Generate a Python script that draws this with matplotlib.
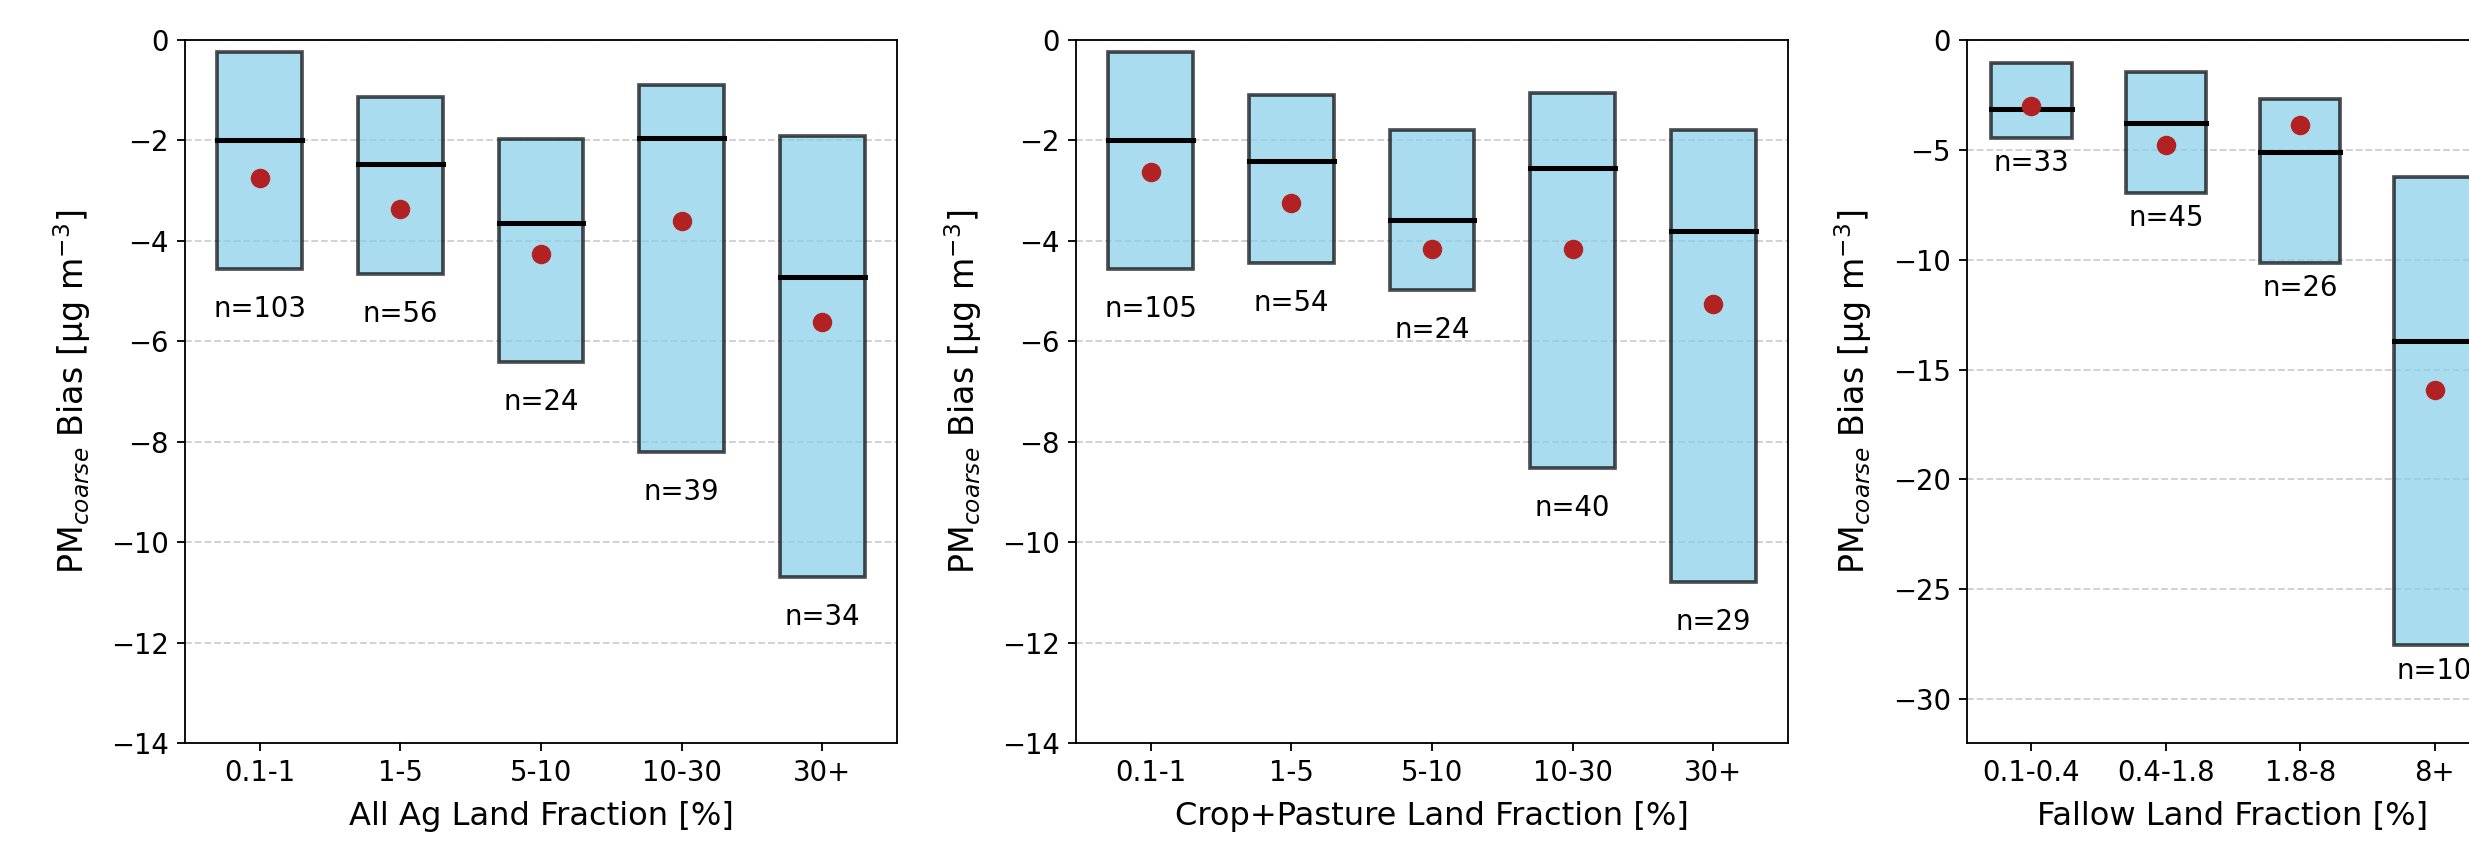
import numpy as np
import matplotlib
matplotlib.use("Agg")
import matplotlib.pyplot as plt

# bins and stats (q1 / median / q3 / mean / n)
ag_bins = ["0.1-1", "1-5", "5-10", "10-30", "30+"]
ag_q3 = [-0.24, -1.13, -1.98, -0.89, -1.91]
ag_q1 = [-4.56, -4.66, -6.41, -8.21, -10.70]
ag_med = [-2.00, -2.46, -3.65, -1.96, -4.71]
ag_mean = [-2.75, -3.36, -4.26, -3.61, -5.62]
ag_n = [103, 56, 24, 39, 34]

cp_bins = ["0.1-1", "1-5", "5-10", "10-30", "30+"]
cp_q3 = [-0.24, -1.09, -1.79, -1.05, -1.79]
cp_q1 = [-4.56, -4.44, -4.98, -8.53, -10.80]
cp_med = [-2.00, -2.41, -3.59, -2.54, -3.81]
cp_mean = [-2.63, -3.24, -4.17, -4.17, -5.25]
cp_n = [105, 54, 24, 40, 29]

fal_bins = ["0.1-0.4", "0.4-1.8", "1.8-8", "8+"]
fal_q3 = [-1.03, -1.45, -2.70, -6.24]
fal_q1 = [-4.47, -6.97, -10.16, -27.55]
fal_med = [-3.12, -3.76, -5.08, -13.68]
fal_mean = [-3.00, -4.79, -3.85, -15.93]
fal_n = [33, 45, 26, 10]

ylabel = r"PM$_{coarse}$ Bias [μg m$^{-3}$]"

W, H = 2469, 846
DPI = 165
fig = plt.figure(figsize=(W / DPI, H / DPI), dpi=DPI)

# axes boxes in pixels (third panel runs past the right edge, as in the source)
ax_h = 703 / H
ax_b = 1 - 743 / H
boxes = [(185, 712), (1076, 712), (1967, 532)]


def panel(ax, bins, q1, med, q3, mean, n, xlabel, ylim, yticks, n_off):
    x = np.arange(len(bins))
    q1 = np.array(q1)
    q3 = np.array(q3)
    w = 0.6
    ax.bar(x, q3 - q1, bottom=q1, width=w, color="skyblue",
           edgecolor="black", linewidth=1.6, alpha=0.7, zorder=2)
    for xi, m in zip(x, med):
        ax.plot([xi - w / 2, xi + w / 2], [m, m], color="black", lw=2.2, zorder=3)
    ax.plot(x, mean, "o", color="firebrick", markersize=7.5, zorder=4)
    for xi, lo, cnt in zip(x, q1, n):
        ax.text(xi, lo - n_off, f"n={cnt}", ha="center", va="center", fontsize=12)
    ax.set_xticks(x)
    ax.set_xticklabels(bins, fontsize=12)
    ax.set_ylim(*ylim)
    ax.set_yticks(yticks)
    ax.tick_params(axis="y", labelsize=12)
    ax.grid(axis="y", linestyle="--", alpha=0.6, zorder=0)
    ax.set_axisbelow(True)
    ax.set_xlabel(xlabel, fontsize=14, labelpad=6)
    ax.set_ylabel(ylabel, fontsize=14.5, labelpad=8)


axes = [fig.add_axes([l / W, ax_b, w / W, ax_h]) for l, w in boxes]

panel(axes[0], ag_bins, ag_q1, ag_med, ag_q3, ag_mean, ag_n,
      "All Ag Land Fraction [%]", (-14, 0), np.arange(-14, 1, 2), 0.8)
panel(axes[1], cp_bins, cp_q1, cp_med, cp_q3, cp_mean, cp_n,
      "Crop+Pasture Land Fraction [%]", (-14, 0), np.arange(-14, 1, 2), 0.8)
panel(axes[2], fal_bins, fal_q1, fal_med, fal_q3, fal_mean, fal_n,
      "Fallow Land Fraction [%]", (-32, 0), np.arange(-30, 1, 5), 1.15)

fig.savefig("out.png", dpi=DPI)
